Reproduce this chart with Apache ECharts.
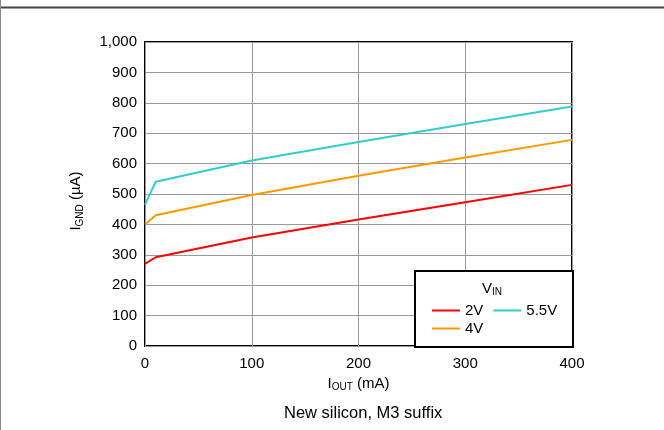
<!DOCTYPE html>
<html>
<head>
<meta charset="utf-8">
<script src="https://cdn.jsdelivr.net/npm/echarts@6/dist/echarts.min.js"></script>
<style>html,body{margin:0;padding:0;background:#fff;}#c{width:664px;height:430px;}</style>
</head>
<body>
<div id="c"></div>
<script>
var iout = [0, 10, 100, 200, 300, 400];
var v2 = [270, 292, 357, 416, 473, 530];
var v4 = [400, 430, 497, 560, 620, 678];
var v55 = [465, 540, 610, 671, 730, 788];
var seriesNames = ['2V', '4V', '5.5V'];
var colors = ['#ff0000', '#ff9900', '#33cccc'];
var xTicks = [0, 100, 200, 300, 400];

function pts(arr) { return iout.map(function (x, i) { return [x, arr[i]]; }); }
var font = 'Liberation Sans, Arial, sans-serif';
var chart = echarts.init(document.getElementById('c'), null, {renderer: 'canvas'});
var sub = {fontSize: 10, fontFamily: font, color: '#000', padding: [8, 0, 0, 0]};
var main = {fontSize: 15, fontFamily: font, color: '#000'};
var last = {fontSize: 15, fontFamily: font, color: '#000', padding: [0, 14, 0, 0]};
chart.setOption({
  animation: false,
  grid: {left: 145, top: 42, right: 92, bottom: 84, show: true, borderColor: '#000', borderWidth: 2, backgroundColor: 'transparent'},
  xAxis: {
    type: 'value', min: 0, max: 400, interval: 100,
    axisLine: {show: false}, axisTick: {show: false},
    splitLine: {show: true, lineStyle: {color: '#999', width: 1}},
    axisLabel: {color: '#000', fontSize: 15, fontFamily: font, margin: 10},
    name: '{a|I}{s|OUT}{a| (mA)}', nameLocation: 'middle', nameGap: 28,
    nameTextStyle: {rich: {a: main, s: sub}}
  },
  yAxis: {
    type: 'value', min: 0, max: 1000, interval: 100,
    axisLine: {show: false}, axisTick: {show: false},
    splitLine: {show: true, lineStyle: {color: '#999', width: 1}},
    axisLabel: {color: '#000', fontSize: 15, fontFamily: font, margin: 8,
      formatter: function (v) { return v.toLocaleString('en-US'); }},
    name: '{a|I}{s|GND}{l| (µA)}', nameLocation: 'middle', nameGap: 60,
    nameTextStyle: {rich: {a: main, s: sub, l: last}}
  },
  legend: [
    {data: ['2V', '5.5V'], left: 427, top: 298, itemWidth: 28, itemHeight: 2, itemGap: 10,
      icon: 'rect', textStyle: {fontSize: 15, fontFamily: font, color: '#000'}, z: 10},
    {data: ['4V'], left: 427, top: 316, itemWidth: 28, itemHeight: 2,
      icon: 'rect', textStyle: {fontSize: 15, fontFamily: font, color: '#000'}, z: 10}
  ],
  graphic: [
    {type: 'line', shape: {x1: 0, y1: 7.5, x2: 664, y2: 7.5}, style: {stroke: '#444', lineWidth: 2}},
    {type: 'line', shape: {x1: 0.5, y1: 0, x2: 0.5, y2: 430}, style: {stroke: '#888', lineWidth: 1}},
    {type: 'rect', shape: {x: 415, y: 271, width: 158, height: 76}, style: {fill: '#fff', stroke: '#000', lineWidth: 2}, z: 5},
    {type: 'text', left: 482, top: 281, z: 6, style: {text: '{a|V}{s|IN}', rich: {a: {fontSize: 15, fontFamily: font, fill: '#000'}, s: {fontSize: 10, fontFamily: font, fill: '#000', padding: [8, 0, 0, 0]}}}},
    {type: 'text', left: 284, top: 405, style: {text: 'New silicon, M3 suffix', fontSize: 16.5, fontFamily: font, fill: '#000'}}
  ],
  series: [
    {name: '2V', type: 'line', data: pts(v2), showSymbol: false, lineStyle: {color: colors[0], width: 2}, itemStyle: {color: colors[0]}, z: 3},
    {name: '4V', type: 'line', data: pts(v4), showSymbol: false, lineStyle: {color: colors[1], width: 2}, itemStyle: {color: colors[1]}, z: 3},
    {name: '5.5V', type: 'line', data: pts(v55), showSymbol: false, lineStyle: {color: colors[2], width: 2}, itemStyle: {color: colors[2]}, z: 3}
  ]
});
</script>
</body>
</html>
